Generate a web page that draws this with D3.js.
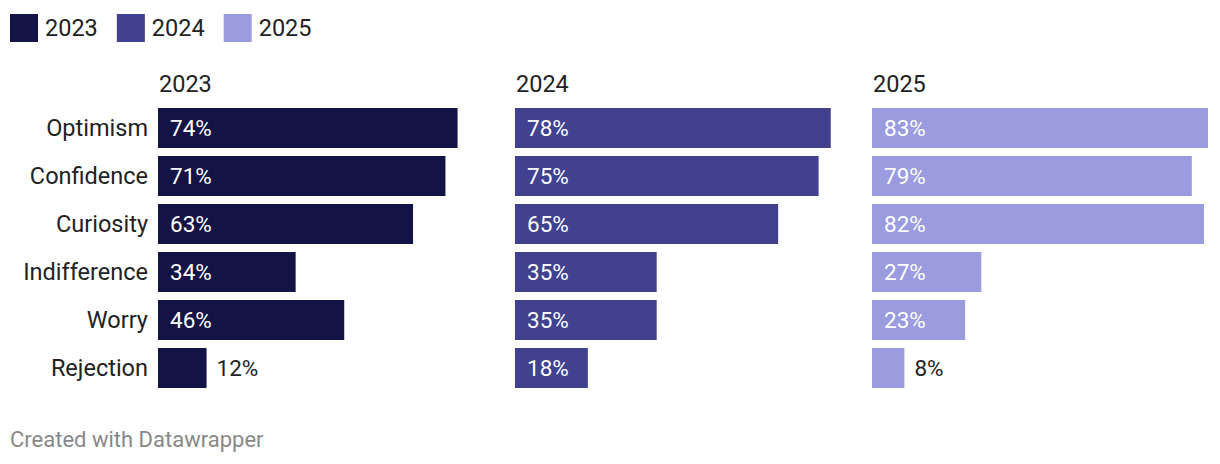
<!DOCTYPE html>
<html>
<head>
<meta charset="utf-8">
<script src="https://cdn.jsdelivr.net/npm/d3@7"></script>
<style>
	body { margin: 0; background: #fff; font-family: Roboto, sans-serif; }
	svg text { font-family: Roboto, sans-serif; }
</style>
</head>
<body>
<svg id="viz" width="1220" height="464"></svg>
<script>

// data
const categories = ["Optimism", "Confidence", "Curiosity", "Indifference", "Worry", "Rejection"];
const years = ["2023", "2024", "2025"];
const values2023 = [74, 71, 63, 34, 46, 12];
const values2024 = [78, 75, 65, 35, 35, 18];
const values2025 = [83, 79, 82, 27, 23, 8];
const colors = ["#141345", "#41418f", "#9b9be0"];

let drawEverything = function() {

	const margin = {
		top: 108,
		left: 158
	};
	const panelWidth = 336;
	const panelGap = 21;
	const barHeight = 40;
	const barGap = 8;
	const labelSize = 23.5;
	const valueSize = 22.5;

	let svg = d3.select("body").select("svg#viz");
	let series = [values2023, values2024, values2025];

	let maxVal = d3.max(series, s => d3.max(s));

	// x scale shared by all panels
	let xScale = d3.scaleLinear()
		.domain([0, maxVal])
		.range([0, panelWidth]);

	// y scale for the rows
	let n = categories.length;
	let yScale = d3.scaleBand()
		.domain(categories)
		.range([0, n * barHeight + (n - 1) * barGap])
		.paddingInner(barGap / (barHeight + barGap))
		.paddingOuter(0);

	// panel scale
	let panelScale = d3.scaleBand()
		.domain(years)
		.range([0, years.length * panelWidth + (years.length - 1) * panelGap])
		.paddingInner(panelGap / (panelWidth + panelGap));

	let plot = svg.append("g")
		.attr("transform", `translate(${margin.left}, ${margin.top})`);

	// category labels on the left
	plot.selectAll("text.cat")
		.data(categories)
		.enter().append("text")
		.attr("class", "cat")
		.attr("x", -10)
		.attr("y", d => yScale(d) + yScale.bandwidth() / 2)
		.attr("dy", "0.35em")
		.attr("text-anchor", "end")
		.attr("font-size", labelSize)
		.attr("fill", "#222")
		.text(d => d);

	years.forEach(function(year, i) {
		let panel = plot.append("g")
			.attr("transform", `translate(${panelScale(year)}, 0)`);

		panel.append("text")
			.attr("x", 1)
			.attr("y", -16)
			.attr("font-size", labelSize)
			.attr("fill", "#222")
			.text(year);

		let rows = categories.map((c, j) => ({cat: c, value: series[i][j]}));

		panel.selectAll("rect")
			.data(rows)
			.enter().append("rect")
			.attr("x", 0)
			.attr("y", d => yScale(d.cat))
			.attr("width", d => xScale(d.value))
			.attr("height", yScale.bandwidth())
			.attr("fill", colors[i]);

		panel.selectAll("text.val")
			.data(rows)
			.enter().append("text")
			.attr("class", "val")
			.attr("y", d => yScale(d.cat) + yScale.bandwidth() / 2)
			.attr("dy", "0.35em")
			.attr("font-size", valueSize)
			.text(d => d.value + "%")
			.each(function(d) {
				let w = this.getComputedTextLength();
				let inside = xScale(d.value) > w + 20;
				d3.select(this)
					.attr("x", inside ? 12 : xScale(d.value) + 10)
					.attr("fill", inside ? "#fff" : "#222");
			});
	});

	// legend
	let legend = svg.append("g").attr("transform", "translate(10, 14)");
	let lx = 0;
	years.forEach(function(year, i) {
		let g = legend.append("g").attr("transform", `translate(${lx}, 0)`);
		g.append("rect")
			.attr("width", 28)
			.attr("height", 28)
			.attr("fill", colors[i]);
		let t = g.append("text")
			.attr("x", 35)
			.attr("y", 14)
			.attr("dy", "0.35em")
			.attr("font-size", labelSize)
			.attr("fill", "#222")
			.text(year);
		lx += 35 + t.node().getComputedTextLength() + 19;
	});

	// footer
	svg.append("text")
		.attr("x", 10)
		.attr("y", 447)
		.attr("font-size", 22)
		.attr("fill", "#888")
		.text("Created with Datawrapper");
};

drawEverything();
</script>
</body>
</html>
